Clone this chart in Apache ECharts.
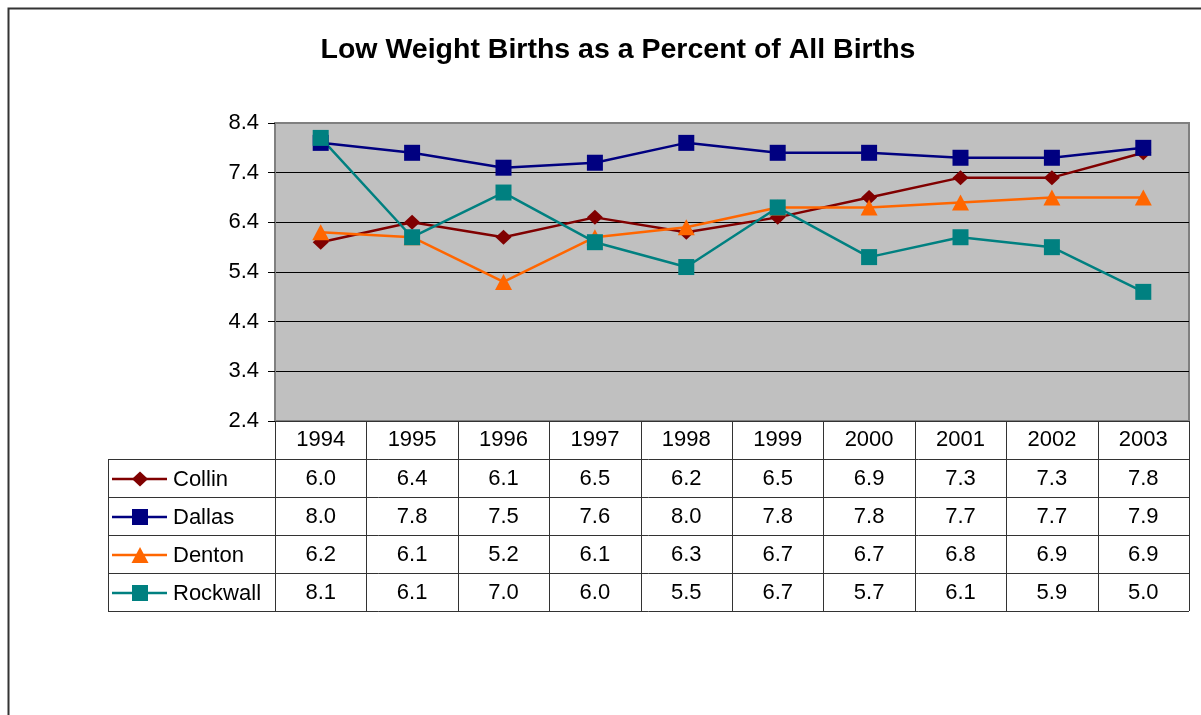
<!DOCTYPE html>
<html>
<head>
<meta charset="utf-8">
<script src="https://cdn.jsdelivr.net/npm/echarts@6/dist/echarts.min.js"></script>
<style>
  html, body { margin: 0; padding: 0; background: #fff; }
  #chart { width: 1201px; height: 715px; }
</style>
</head>
<body>
<div id="chart"></div>
<script>
// Years along the category axis
const years = ['1994', '1995', '1996', '1997', '1998', '1999', '2000', '2001', '2002', '2003'];

// Low weight births, percent of all births, by county
const collin   = [6.0, 6.4, 6.1, 6.5, 6.2, 6.5, 6.9, 7.3, 7.3, 7.8];
const dallas   = [8.0, 7.8, 7.5, 7.6, 8.0, 7.8, 7.8, 7.7, 7.7, 7.9];
const denton   = [6.2, 6.1, 5.2, 6.1, 6.3, 6.7, 6.7, 6.8, 6.9, 6.9];
const rockwall = [8.1, 6.1, 7.0, 6.0, 5.5, 6.7, 5.7, 6.1, 5.9, 5.0];

// Value axis range
const yMin = 2.4;
const yMax = 8.4;
const yStep = 1.0;

const seriesDefs = [
  { name: 'Collin',   data: collin,   color: '#800000', symbol: 'diamond',  size: [16, 15] },
  { name: 'Dallas',   data: dallas,   color: '#000080', symbol: 'rect',     size: [16, 16] },
  { name: 'Denton',   data: denton,   color: '#FF6600', symbol: 'triangle', size: [17, 16] },
  { name: 'Rockwall', data: rockwall, color: '#008080', symbol: 'rect',     size: [16, 16] }
];

const FONT = '"Liberation Sans", Arial, sans-serif';
const TEXT_SIZE = 22;
const ROW_H = 38;          // data table row height
const TABLE_LEFT = 108;    // left edge of the legend column
const KEY_X0 = 112, KEY_X1 = 167, KEY_MID = 140, KEY_TEXT = 173;

const chart = echarts.init(document.getElementById('chart'), null, { renderer: 'canvas' });

chart.setOption({
  animation: false,
  backgroundColor: '#ffffff',
  title: {
    text: 'Low Weight Births as a Percent of All Births',
    left: 613,
    top: 31,
    textAlign: 'center',
    textStyle: { fontFamily: FONT, fontWeight: 'bold', fontSize: 28.5, color: '#000' }
  },
  grid: {
    left: 275, top: 123, width: 914, height: 298,
    show: true,
    backgroundColor: '#C0C0C0',
    borderColor: '#808080',
    borderWidth: 2
  },
  xAxis: {
    type: 'category',
    data: years,
    boundaryGap: true,
    axisLine: { show: false },
    axisTick: { show: false },
    axisLabel: { margin: 8, fontFamily: FONT, fontSize: TEXT_SIZE, color: '#000' },
    splitLine: { show: false }
  },
  yAxis: {
    type: 'value',
    min: yMin,
    max: yMax,
    interval: yStep,
    axisLine: { show: true, lineStyle: { color: '#808080', width: 2 } },
    axisTick: { show: true, inside: false, length: 7, lineStyle: { color: '#000', width: 1 } },
    axisLabel: {
      margin: 16,
      fontFamily: FONT, fontSize: TEXT_SIZE, color: '#000',
      formatter: v => v.toFixed(1)
    },
    splitLine: {
      show: true,
      showMinLine: false,
      showMaxLine: false,
      lineStyle: { color: '#000', width: 1 }
    }
  },
  series: seriesDefs.map(s => ({
    name: s.name,
    type: 'line',
    data: s.data,
    symbol: s.symbol,
    symbolSize: s.size,
    showAllSymbol: true,
    lineStyle: { color: s.color, width: 2.5 },
    itemStyle: { color: s.color, borderWidth: 0 }
  }))
});

// Data table below the plot, aligned to the category bands
function drawTable() {
  const c0 = chart.convertToPixel({ xAxisIndex: 0 }, years[0]);
  const c1 = chart.convertToPixel({ xAxisIndex: 0 }, years[1]);
  const band = c1 - c0;
  const left = c0 - band / 2;
  const right = left + band * years.length;
  const top = chart.convertToPixel({ yAxisIndex: 0 }, yMin);
  const rowsTop = top + ROW_H;
  const bottom = rowsTop + ROW_H * seriesDefs.length;
  const lineStyle = { stroke: '#333', lineWidth: 1 };
  const g = [];

  // outer frame of the chart
  g.push({ type: 'rect', shape: { x: 8.5, y: 8.5, width: 1400, height: 900 },
           style: { fill: null, stroke: '#333', lineWidth: 2 }, z: 100, silent: true });

  // vertical lines of the header + value columns
  for (let i = 0; i <= years.length; i++) {
    const x = Math.round(left + band * i) + 0.5;
    g.push({ type: 'line', shape: { x1: x, y1: top, x2: x, y2: bottom }, style: lineStyle, z: 50 });
  }
  // legend column edge
  g.push({ type: 'line', shape: { x1: TABLE_LEFT + 0.5, y1: rowsTop, x2: TABLE_LEFT + 0.5, y2: bottom }, style: lineStyle, z: 50 });
  // header top edge
  g.push({ type: 'line', shape: { x1: left, y1: Math.round(top) + 0.5, x2: right, y2: Math.round(top) + 0.5 }, style: lineStyle, z: 50 });
  // row lines
  for (let r = 0; r <= seriesDefs.length; r++) {
    const y = Math.round(rowsTop + ROW_H * r) + 0.5;
    g.push({ type: 'line', shape: { x1: TABLE_LEFT, y1: y, x2: right, y2: y }, style: lineStyle, z: 50 });
  }

  seriesDefs.forEach((s, r) => {
    const cy = rowsTop + ROW_H * r + ROW_H / 2 + 1;
    // legend key: line with marker
    g.push({ type: 'line', shape: { x1: KEY_X0, y1: cy, x2: KEY_X1, y2: cy },
             style: { stroke: s.color, lineWidth: 2.5 }, z: 60 });
    const hw = s.size[0] / 2, hh = s.size[1] / 2;
    let marker;
    if (s.symbol === 'diamond') {
      marker = { type: 'polygon', shape: { points: [[KEY_MID, cy - hh], [KEY_MID + hw, cy], [KEY_MID, cy + hh], [KEY_MID - hw, cy]] } };
    } else if (s.symbol === 'triangle') {
      marker = { type: 'polygon', shape: { points: [[KEY_MID, cy - hh], [KEY_MID + hw, cy + hh], [KEY_MID - hw, cy + hh]] } };
    } else {
      marker = { type: 'rect', shape: { x: KEY_MID - hw, y: cy - hh, width: s.size[0], height: s.size[1] } };
    }
    marker.style = { fill: s.color };
    marker.z = 61;
    g.push(marker);
    g.push({ type: 'text', x: KEY_TEXT, y: cy + 1,
             style: { text: s.name, font: TEXT_SIZE + 'px ' + FONT, fill: '#000', verticalAlign: 'middle', align: 'left' }, z: 60 });

    // values
    s.data.forEach((v, i) => {
      g.push({ type: 'text', x: left + band * i + band / 2, y: cy,
               style: { text: v.toFixed(1), font: TEXT_SIZE + 'px ' + FONT, fill: '#000', align: 'center', verticalAlign: 'middle' }, z: 60 });
    });
  });

  chart.setOption({ graphic: g });
}
drawTable();
</script>
</body>
</html>
